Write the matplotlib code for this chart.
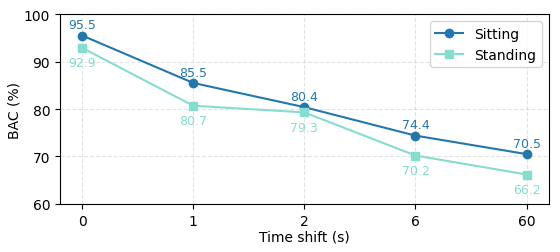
import numpy as np
import matplotlib
matplotlib.use('Agg')
import matplotlib.pyplot as plt

shifts = ['0', '1', '2', '6', '60']
sitting = [95.5, 85.5, 80.4, 74.4, 70.5]
standing = [92.9, 80.7, 79.3, 70.2, 66.2]

c_sit = '#2377ad'
c_stand = '#86dccf'

fig, ax = plt.subplots(figsize=(5.6, 2.53), dpi=100)
x = np.arange(len(shifts))

ax.plot(x, sitting, marker='o', color=c_sit, label='Sitting', markersize=6)
ax.plot(x, standing, marker='s', color=c_stand, label='Standing', markersize=6)

# etiquetas de valores
for xi, v in zip(x, sitting):
    ax.annotate(f'{v}', (xi, v), textcoords='offset points', xytext=(0, 3),
                ha='center', va='bottom', color=c_sit, fontsize=9)
for xi, v in zip(x, standing):
    ax.annotate(f'{v}', (xi, v), textcoords='offset points', xytext=(0, -6),
                ha='center', va='top', color=c_stand, fontsize=9)

ax.set_xticks(x)
ax.set_xticklabels(shifts)
ax.set_ylim(60, 100)
ax.set_xlim(-0.2, 4.2)
ax.set_xlabel('Time shift (s)', labelpad=1)
ax.set_ylabel('BAC (%)', labelpad=2)
ax.grid(True, linestyle='--', alpha=0.35)
ax.legend(loc='upper right')

fig.subplots_adjust(left=0.107, right=0.98, top=0.94, bottom=0.19)
fig.savefig('out.png', dpi=100)
